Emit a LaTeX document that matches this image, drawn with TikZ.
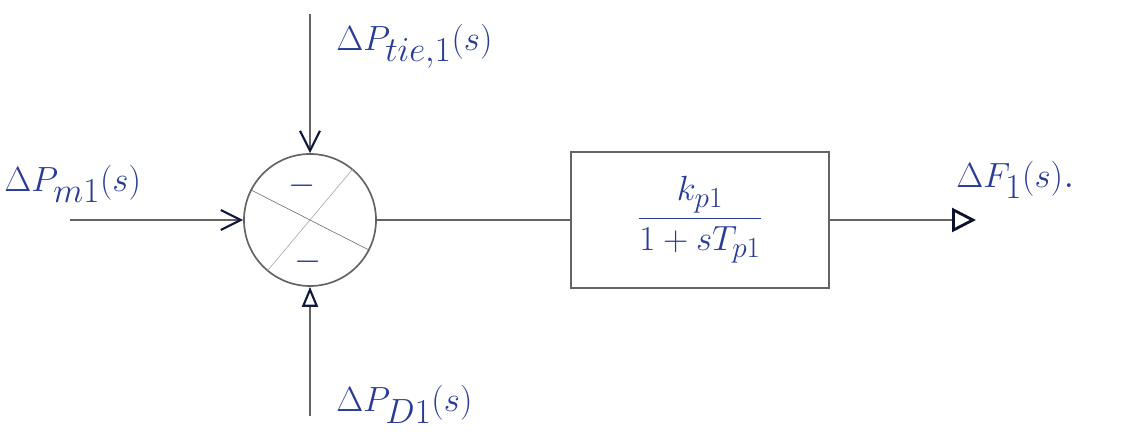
\documentclass[tikz,border=0pt]{standalone}
\usepackage{amsmath}
\usetikzlibrary{arrows.meta}
\definecolor{ink}{RGB}{40,60,150}
\definecolor{pencil}{RGB}{100,100,100}
\begin{document}
\begin{tikzpicture}[
	every node/.style = {text = ink},
	lbl/.style = {font = \fontsize{33}{38}\selectfont, anchor = west, inner sep = 0pt},
	line/.style = {pencil, line width = 1.2pt},
	tip/.style = {-{Straight Barb[length = 5mm, width = 5mm, line width = 1.5pt, color = ink!40!black]}}
	]
	\useasboundingbox (0,0) rectangle (28.25,11);
	% summing point
	\node [circle, draw = pencil, line width = 1.2pt, minimum size = 3.3cm] (sum) at (7.75,5.5) {};
	\draw [pencil] (sum.153) -- (sum.-27);
	\draw [pencil!60] (sum.50) -- (sum.230);
	\node [font = \fontsize{26}{30}\selectfont] (m1) at (7.55,6.35) {$-$};
	\node [font = \fontsize{26}{30}\selectfont] (m2) at (7.7,4.45) {$-$};
	% plant block
	\node [draw = pencil, line width = 1.2pt, minimum width = 6.45cm, minimum height = 3.4cm] (gp) at (17.5,5.5) {};
	\node [font = \fontsize{30}{34}\selectfont] (tf) at (gp) {$\dfrac{k_{p1}}{1+sT_{p1}}$};
	% signals
	\coordinate (in) at (1.75,5.5);
	\coordinate (top) at (7.75,10.65);
	\coordinate (bot) at (7.75,0.6);
	\coordinate (out) at (24.4,5.5);
	\draw [line, tip] (in) -- (sum.west);
	\draw [line, tip] (top) -- (sum.north);
	\draw [line, -{Triangle[open, length = 5mm, width = 4mm, line width = 1.5pt, color = ink!40!black]}] (bot) -- (sum.south);
	\draw [line] (sum.east) -- (gp.west);
	\draw [line, -{Triangle[open, length = 6mm, width = 6mm, line width = 2pt, color = ink!30!black]}] (gp.east) -- (out);
	% labels
	\node [lbl] (lm) at (0.1,6.4) {$\Delta P_{m1}(s)$};
	\node [lbl] (lt) at (8.4,9.85) {$\Delta P_{tie,1}(s)$};
	\node [lbl] (ld) at (8.4,0.9) {$\Delta P_{D1}(s)$};
	\node [lbl] (lf) at (23.9,6.5) {$\Delta F_1(s)$.};
\end{tikzpicture}
\end{document}
